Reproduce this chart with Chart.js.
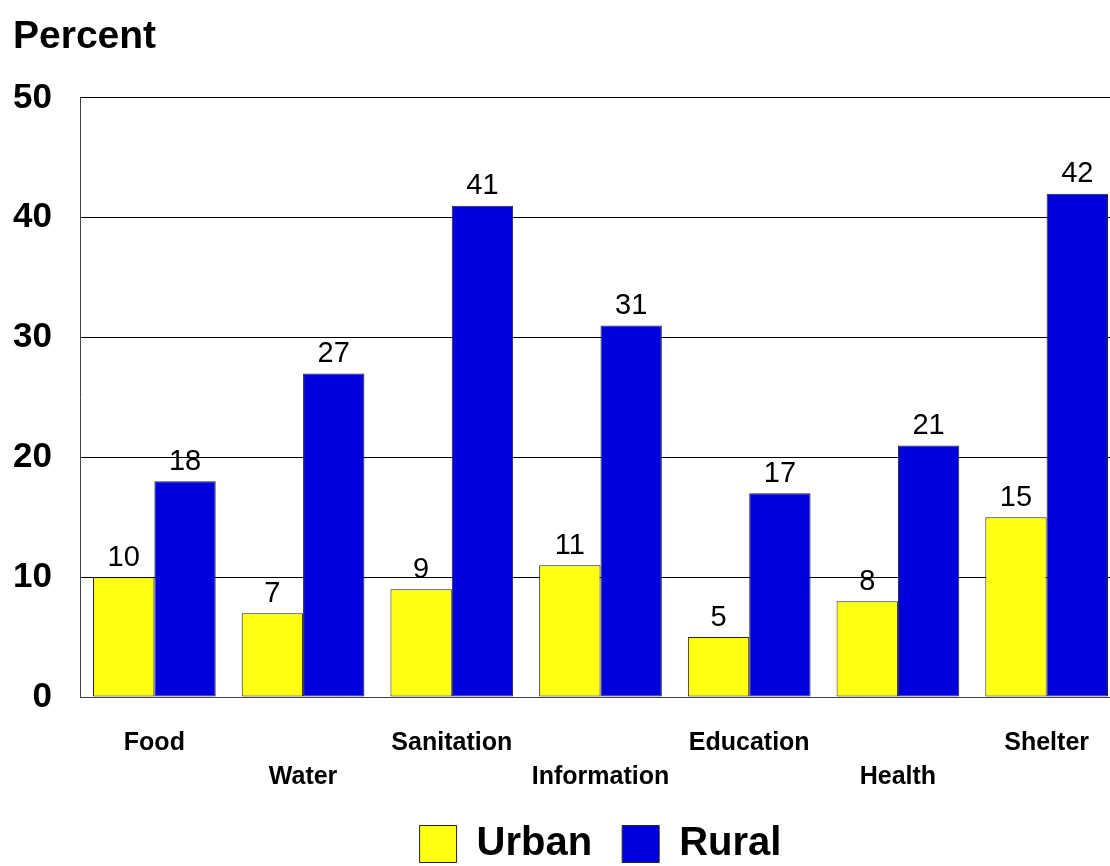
<!DOCTYPE html>
<html lang="en">

<head>
    <meta charset="UTF-8">
    <title>Urban and Rural Deprivation</title>
    <script src="https://cdn.jsdelivr.net/npm/chart.js@4.4.1/dist/chart.umd.min.js"></script>
    <style>
        html, body { margin: 0; padding: 0; background: #fff; overflow: hidden; }
    </style>
</head>

<body>
    <canvas id="barChart" width="1122" height="866"></canvas>

    <script>
        const categories = ['Food', 'Water', 'Sanitation', 'Information', 'Education', 'Health', 'Shelter'];
        const urban = [10, 7, 9, 11, 5, 8, 15];
        const rural = [18, 27, 41, 31, 17, 21, 42];
        const yTicks = [0, 10, 20, 30, 40, 50];

        const FONT = '"Liberation Sans", Arial, Helvetica, sans-serif';
        Chart.defaults.font.family = FONT;
        Chart.defaults.color = '#000';

        // numbers printed above each bar
        const valueLabels = {
            id: 'valueLabels',
            afterDatasetsDraw(chart) {
                const ctx = chart.ctx;
                ctx.save();
                ctx.font = '29px ' + FONT;
                ctx.fillStyle = '#000';
                ctx.textAlign = 'center';
                ctx.textBaseline = 'bottom';
                chart.data.datasets.forEach((ds, i) => {
                    chart.getDatasetMeta(i).data.forEach((bar, j) => {
                        ctx.fillText(ds.data[j], bar.x, bar.y - 5);
                    });
                });
                ctx.restore();
            }
        };

        // keep the legend centred under the plot rather than the whole canvas
        const centreLegend = {
            id: 'centreLegend',
            afterLayout(chart) {
                const lg = chart.legend, ca = chart.chartArea;
                const shift = ((ca.left + ca.right) - (lg.left + lg.right)) / 2;
                lg.left += shift;
                lg.right += shift;
            }
        };

        new Chart(document.getElementById('barChart'), {
            type: 'bar',
            data: {
                labels: categories,
                datasets: [{
                    label: 'Urban',
                    data: urban,
                    backgroundColor: '#ffff14',
                    borderColor: '#222',
                    borderWidth: 1,
                    borderSkipped: false
                }, {
                    label: 'Rural',
                    data: rural,
                    backgroundColor: '#0000dd',
                    borderColor: '#222',
                    borderWidth: 1,
                    borderSkipped: false
                }]
            },
            options: {
                responsive: false,
                animation: false,
                categoryPercentage: 0.825,
                barPercentage: 1.0,
                layout: { padding: { left: 13, right: 1, top: 0, bottom: -8 } },
                plugins: {
                    title: {
                        display: true,
                        text: 'Percent',
                        align: 'start',
                        color: '#000',
                        font: { size: 39, weight: 'bold', lineHeight: 1.1 },
                        padding: { top: 16, bottom: 39 }
                    },
                    legend: {
                        position: 'bottom',
                        labels: {
                            boxWidth: 37,
                            boxHeight: 37,
                            padding: 30,
                            color: '#000',
                            font: { size: 40, weight: 'bold', lineHeight: 1 }
                        }
                    },
                    tooltip: { enabled: false }
                },
                scales: {
                    x: {
                        afterFit: (scale) => { scale.height = 97; },
                        grid: { display: false, drawTicks: false },
                        border: { display: true, color: '#444', width: 1 },
                        ticks: {
                            padding: 29,
                            color: '#000',
                            font: { size: 25, weight: 'bold', lineHeight: 1.36 },
                            maxRotation: 0,
                            autoSkip: false,
                            callback: (v, i) => i % 2 ? ['', categories[i]] : [categories[i]]
                        }
                    },
                    y: {
                        min: 0,
                        max: 50,
                        afterBuildTicks: (scale) => {
                            scale.ticks = yTicks.map(v => ({ value: v }));
                        },
                        afterFit: (scale) => { scale.width = 67; },
                        grid: { color: '#000', lineWidth: 1, drawTicks: false },
                        border: { display: true, color: '#444', width: 1 },
                        ticks: {
                            padding: 28,
                            color: '#000',
                            font: { size: 35, weight: 'bold' }
                        }
                    }
                }
            },
            plugins: [valueLabels, centreLegend]
        });
    </script>
</body>

</html>
